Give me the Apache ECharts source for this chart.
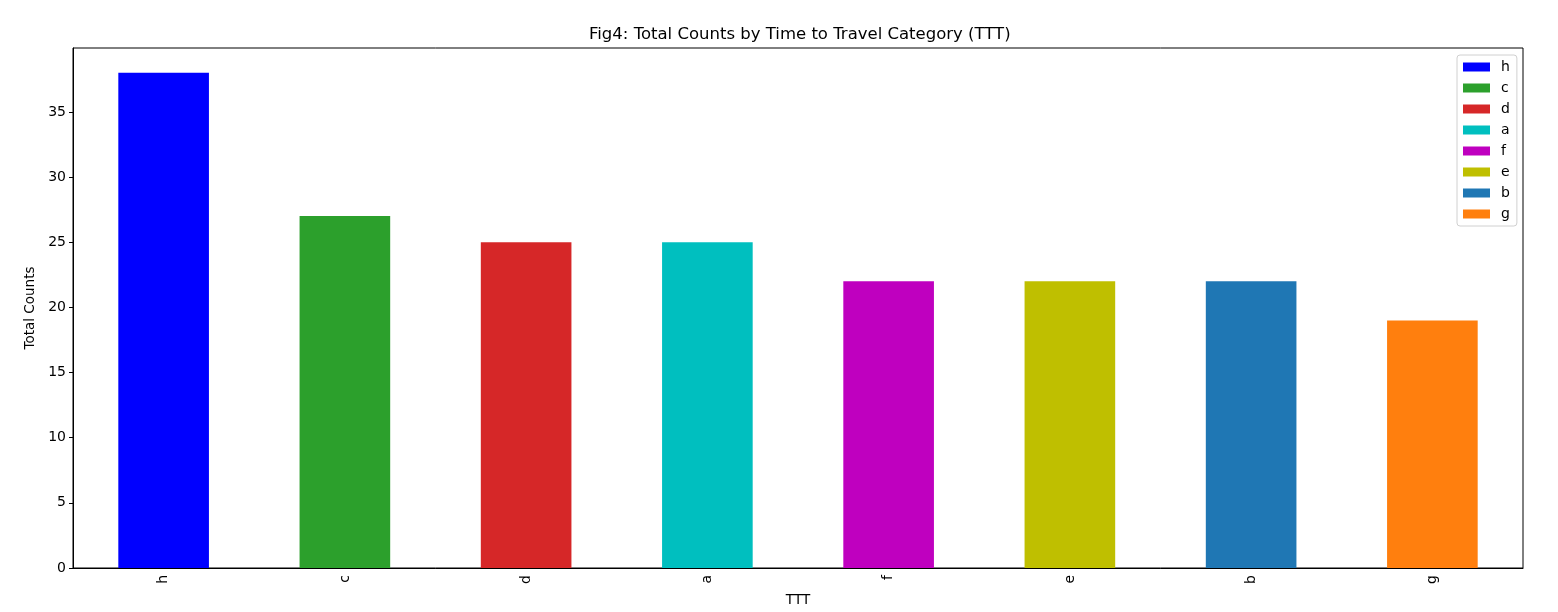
<!DOCTYPE html>
<html>
<head>
<meta charset="utf-8">
<script src="https://cdn.jsdelivr.net/npm/echarts@6/dist/echarts.min.js"></script>
<style>
html,body{margin:0;padding:0;background:#fff;}
#chart{width:1558px;height:612px;}
</style>
</head>
<body>
<div id="chart"></div>
<script>
const categories = ['h','c','d','a','f','e','b','g'];
const values = [38, 27, 25, 25, 22, 22, 22, 19];
const colors = ['#0000ff','#2ca02c','#d62728','#00bfbf','#bf00bf','#bfbf00','#1f77b4','#ff7f0e'];
const yTicks = [0,5,10,15,20,25,30,35];

const FONT = 'DejaVu Sans';
const series = categories.map((c, i) => ({
  name: c,
  type: 'bar',
  stack: 'all',
  barWidth: '50%',
  itemStyle: {color: colors[i]},
  data: categories.map((_, j) => j === i ? values[i] : null)
}));

const chart = echarts.init(document.getElementById('chart'));
chart.setOption({
  animation: false,
  backgroundColor: '#fff',
  title: {
    text: 'Fig4: Total Counts by Time to Travel Category (TTT)',
    left: 584, top: 21,
    textStyle: {fontFamily: FONT, fontSize: 16.5, fontWeight: 'normal', color: '#000'}
  },
  legend: {
    orient: 'vertical',
    left: 1457, top: 55,
    padding: [5, 7, 5, 6],
    itemWidth: 27, itemHeight: 9, itemGap: 7,
    borderColor: '#d0d0d0', borderWidth: 1, borderRadius: 3,
    icon: 'rect',
    textStyle: {fontFamily: FONT, fontSize: 14, color: '#000', padding: [0,0,0,6]},
    data: categories
  },
  grid: {
    left: 73, right: 35, top: 48, bottom: 44,
    outerBoundsMode: 'none', containLabel: false,
    show: true, borderColor: '#000', borderWidth: 1, backgroundColor: 'transparent'
  },
  xAxis: {
    type: 'category',
    data: categories,
    name: 'TTT', nameLocation: 'middle', nameGap: 25,
    nameTextStyle: {fontFamily: FONT, fontSize: 13.5, color: '#000'},
    axisLine: {lineStyle: {color: '#000', width: 1}},
    axisTick: {alignWithLabel: true, length: 4, lineStyle: {color: '#000'}},
    axisLabel: {rotate: 90, fontFamily: FONT, fontSize: 14, color: '#000', margin: 7}
  },
  yAxis: {
    type: 'value',
    min: 0, max: 39.9, interval: 5,
    name: 'Total Counts', nameLocation: 'middle', nameGap: 34,
    nameTextStyle: {fontFamily: FONT, fontSize: 13.5, color: '#000'},
    splitLine: {show: false},
    axisLine: {show: true, lineStyle: {color: '#000', width: 1}},
    axisTick: {show: true, length: 4, lineStyle: {color: '#000'}},
    axisLabel: {
      fontFamily: FONT, fontSize: 14, color: '#000', margin: 7,
      showMaxLabel: false,
      formatter: v => yTicks.includes(v) ? String(v) : ''
    }
  },
  series: series
});
</script>
</body>
</html>
